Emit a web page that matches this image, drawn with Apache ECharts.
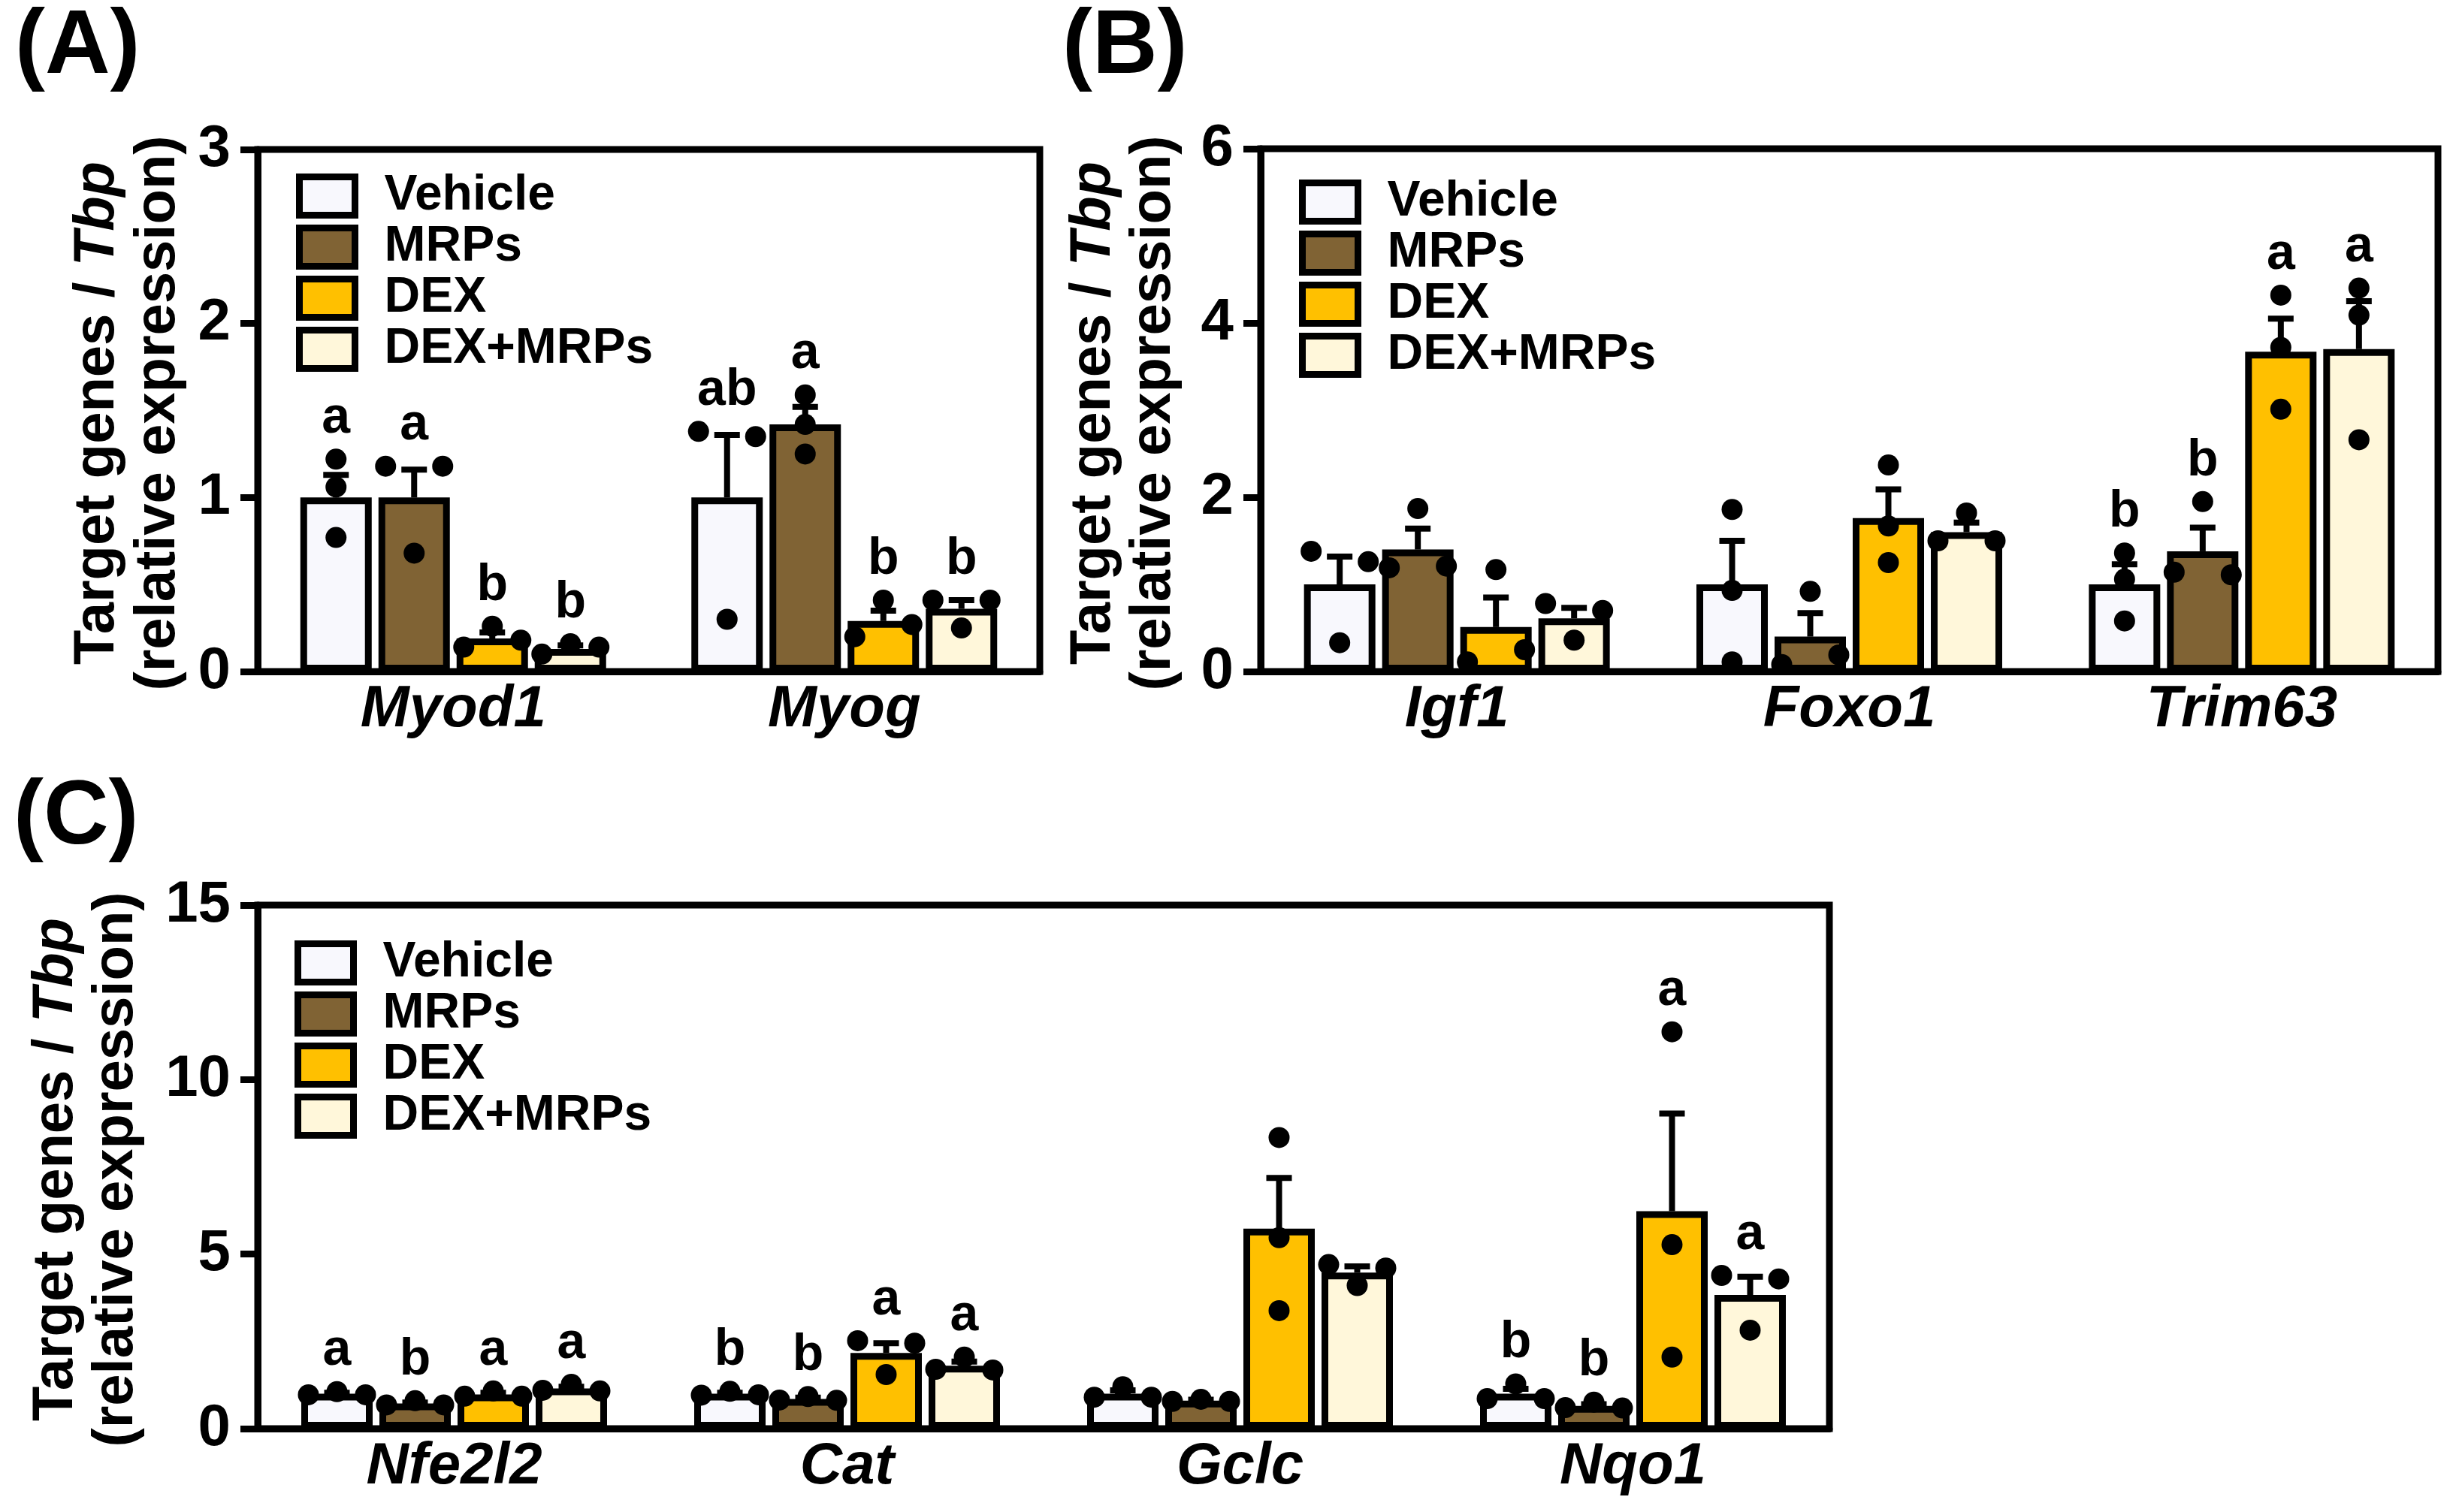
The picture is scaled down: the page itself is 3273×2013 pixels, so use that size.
<!DOCTYPE html>
<html>
<head>
<meta charset="utf-8">
<script src="https://cdn.jsdelivr.net/npm/echarts@6.0.0/dist/echarts.min.js"></script>
<style>
html,body{margin:0;padding:0;background:#fff;}
#chart{width:3273px;height:2013px;}
</style>
</head>
<body>
<div id="chart"></div>
<script>
// ---------------- DATA ----------------
const GROUPS = ['Vehicle', 'MRPs', 'DEX', 'DEX+MRPs'];

// Panel A
const GENES_A = ['Myod1', 'Myog'];
const A_MEAN = [[1.00, 1.00], [1.00, 1.42], [0.19, 0.29], [0.13, 0.36]];
const A_SEM  = [[0.13, 0.36], [0.16, 0.10], [0.035, 0.06], [0.02, 0.05]];
const A_PTS  = [
  [[1.22, 1.06, 0.77], [1.38, 1.35, 0.30]],
  [[1.18, 1.18, 0.68], [1.59, 1.42, 1.25]],
  [[0.14, 0.26, 0.18], [0.41, 0.20, 0.27]],
  [[0.10, 0.16, 0.14], [0.41, 0.41, 0.25]]
];
const A_LET  = [['a', 'ab'], ['a', 'a'], ['b', 'b'], ['b', 'b']];
const A_TICKS = [0, 3, 1];

// Panel B
const GENES_B = ['Igf1', 'Foxo1', 'Trim63'];
const B_MEAN = [[1.00, 1.00, 1.00], [1.40, 0.40, 1.38], [0.51, 1.76, 3.67], [0.61, 1.60, 3.70]];
const B_SEM  = [[0.32, 0.50, 0.23], [0.24, 0.27, 0.27], [0.34, 0.33, 0.38], [0.12, 0.11, 0.55]];
const B_PTS  = [
  [[1.38, 1.26, 0.33], [1.86, 0.93, 0.11], [1.36, 1.06, 0.58]],
  [[1.19, 1.21, 1.87], [0.08, 0.92, 0.19], [1.14, 1.95, 1.11]],
  [[0.11, 1.17, 0.25], [2.37, 1.67, 1.25], [4.32, 3.72, 3.01]],
  [[0.78, 0.70, 0.36], [1.50, 1.82, 1.50], [4.40, 4.09, 2.66]]
];
const B_LET  = [['', '', 'b'], ['', '', 'b'], ['', '', 'a'], ['', '', 'a']];
const B_TICKS = [0, 6, 2];

// Panel C
const GENES_C = ['Nfe2l2', 'Cat', 'Gclc', 'Nqo1'];
const C_MEAN = [[1.00, 1.00, 1.00, 1.00], [0.72, 0.85, 0.80, 0.65], [0.98, 2.17, 5.73, 6.23], [1.15, 1.80, 4.47, 3.83]];
const C_SEM  = [[0.03, 0.03, 0.10, 0.14], [0.03, 0.04, 0.03, 0.05], [0.05, 0.28, 1.45, 2.80], [0.05, 0.12, 0.18, 0.52]];
const C_PTS  = [
  [[0.97, 1.06, 0.97], [0.96, 1.07, 0.97], [0.90, 1.20, 0.90], [0.86, 1.28, 0.86]],
  [[0.68, 0.80, 0.68], [0.82, 0.92, 0.81], [0.78, 0.84, 0.78], [0.60, 0.76, 0.59]],
  [[0.93, 1.08, 0.93], [2.52, 2.45, 1.55], [8.34, 5.47, 3.38], [11.37, 5.27, 2.05]],
  [[1.10, 1.27, 1.08], [1.70, 2.05, 1.68], [4.70, 4.10, 4.60], [4.39, 4.29, 2.82]]
];
const C_LET  = [['a', 'b', '', 'b'], ['b', 'b', '', 'b'], ['a', 'a', '', 'a'], ['a', 'a', '', 'a']];
const C_TICKS = [0, 15, 5];

// ---------------- STYLE ----------------
const FONT = '"Liberation Sans", Arial, Helvetica, sans-serif';
const COLORS = ['#F8F8FD', '#806334', '#FFC000', '#FFF7DA'];
const BORDER = 9;
const BAR_W = 95;
const STEP = BAR_W + BORDER;
const DOT_R = 14;
const SPREAD = 38;
const CLUSTER_PX = 30;
const ERR_W = 8;
const CAP_HALF = 17;

const chart = echarts.init(document.getElementById('chart'), null, {renderer: 'canvas'});

const panels = [
  {genes: GENES_A, mean: A_MEAN, sem: A_SEM, pts: A_PTS, let: A_LET, ticks: A_TICKS,
   grid: {left: 343, top: 199, width: 1041, height: 695}, legend: {left: 394, top: 228}},
  {genes: GENES_B, mean: B_MEAN, sem: B_SEM, pts: B_PTS, let: B_LET, ticks: B_TICKS,
   grid: {left: 1678, top: 198, width: 1567, height: 696}, legend: {left: 1729, top: 236}},
  {genes: GENES_C, mean: C_MEAN, sem: C_SEM, pts: C_PTS, let: C_LET, ticks: C_TICKS,
   grid: {left: 343, top: 1205, width: 2092, height: 697}, legend: {left: 392, top: 1249}}
];

const grids = [], xAxes = [], yAxes = [], series = [], legends = [];

panels.forEach((p, pi) => {
  grids.push(Object.assign({show: true, borderColor: '#000', borderWidth: BORDER, backgroundColor: 'transparent', containLabel: false}, p.grid));
  xAxes.push({
    type: 'category', gridIndex: pi, data: p.genes,
    axisLine: {show: true, lineStyle: {color: '#000', width: BORDER}},
    axisTick: {show: false},
    axisLabel: {interval: 0, margin: 12, color: '#000', fontSize: 78, fontWeight: 'bold', fontStyle: 'italic', fontFamily: FONT},
    splitLine: {show: false}
  });
  yAxes.push({
    type: 'value', gridIndex: pi, min: p.ticks[0], max: p.ticks[1], interval: p.ticks[2],
    axisLine: {show: true, lineStyle: {color: '#000', width: BORDER}},
    axisTick: {show: true, length: 23, lineStyle: {color: '#000', width: BORDER}},
    axisLabel: {margin: 36, color: '#000', fontSize: 78, fontWeight: 'bold', fontFamily: FONT},
    splitLine: {show: false}
  });
  GROUPS.forEach((g, gi) => {
    series.push({
      type: 'bar', name: g, xAxisIndex: pi, yAxisIndex: pi,
      data: p.mean[gi], barWidth: BAR_W, barGap: (BORDER / BAR_W * 100).toFixed(2) + '%',
      itemStyle: {color: COLORS[gi], borderColor: '#000', borderWidth: BORDER},
      z: 2, silent: true, animation: false
    });
  });
  GROUPS.forEach((g, gi) => {
    const letters = p.let[gi];
    series.push({
      type: 'custom', xAxisIndex: pi, yAxisIndex: pi, z: 5, silent: true, animation: false,
      data: p.mean[gi].map((m, i) => [i, m, p.sem[gi][i], p.pts[gi][i][0], p.pts[gi][i][1], p.pts[gi][i][2]]),
      renderItem: function (params, api) {
        const i = api.value(0);
        const base = api.coord([i, 0]);
        const cx = base[0] + (gi - 1.5) * STEP;
        const m = api.value(1), s = api.value(2);
        const yMean = api.coord([i, m])[1];
        const yErr = api.coord([i, m + s])[1];
        const vals = [api.value(3), api.value(4), api.value(5)];
        const ys = vals.map(v => api.coord([i, v])[1]);
        const order = [0, 1, 2].sort((a, b) => ys[a] - ys[b]);
        const cl = [];
        let cid = 0; cl[order[0]] = 0;
        for (let k = 1; k < 3; k++) {
          if (ys[order[k]] - ys[order[k - 1]] >= CLUSTER_PX) cid++;
          cl[order[k]] = cid;
        }
        const offs = [0, 0, 0];
        for (let c = 0; c <= cid; c++) {
          const mem = [0, 1, 2].filter(j => cl[j] === c);
          const pat = mem.length === 1 ? [0] : (mem.length === 2 ? [-SPREAD, SPREAD] : [-SPREAD, 0, SPREAD]);
          mem.forEach((j, k) => { offs[j] = pat[k]; });
        }
        const children = [
          {type: 'line', shape: {x1: cx, y1: yMean, x2: cx, y2: yErr}, style: {stroke: '#000', lineWidth: ERR_W}},
          {type: 'line', shape: {x1: cx - CAP_HALF, y1: yErr, x2: cx + CAP_HALF, y2: yErr}, style: {stroke: '#000', lineWidth: ERR_W}}
        ];
        ys.forEach((y, j) => {
          children.push({type: 'circle', shape: {cx: cx + offs[j], cy: y, r: DOT_R}, style: {fill: '#000'}});
        });
        const letter = letters[i];
        if (letter) {
          const top = Math.min(Math.min.apply(null, ys) - DOT_R, yErr - ERR_W / 2);
          children.push({type: 'text', x: cx, y: top - 6,
            style: {text: letter, fill: '#000', fontSize: 68, fontWeight: 'bold', fontFamily: FONT, align: 'center', verticalAlign: 'bottom'}});
        }
        return {type: 'group', children: children};
      }
    });
  });
  legends.push({
    orient: 'vertical', left: p.legend.left, top: p.legend.top, padding: 0,
    icon: 'rect', itemWidth: 74, itemHeight: 51, itemGap: 2, selectedMode: false,
    data: GROUPS,
    itemStyle: {borderColor: '#000', borderWidth: BORDER},
    textStyle: {fontSize: 66, fontWeight: 'bold', color: '#000', fontFamily: FONT, lineHeight: 51, padding: [0, 0, 0, 34]}
  });
});

function titleTexts(x1, x2, yc) {
  return [
    {type: 'text', x: x1, y: yc, rotation: Math.PI / 2,
     style: {text: '{n|Target genes / }{i|Tbp}', align: 'center', verticalAlign: 'middle',
       fontSize: 76, fontWeight: 'bold', fontFamily: FONT, fill: '#000',
       rich: {n: {fontSize: 76, fontWeight: 'bold', fontFamily: FONT, fill: '#000'},
              i: {fontSize: 76, fontWeight: 'bold', fontStyle: 'italic', fontFamily: FONT, fill: '#000'}}}},
    {type: 'text', x: x2, y: yc, rotation: Math.PI / 2,
     style: {text: '(relative expression)', align: 'center', verticalAlign: 'middle',
       fontSize: 76, fontWeight: 'bold', fontFamily: FONT, fill: '#000'}}
  ];
}

const graphics = [].concat(
  [{type: 'text', left: 20, top: 4, style: {text: '(A)', fontSize: 120, fontWeight: 'bold', fontFamily: FONT, fill: '#000'}},
   {type: 'text', left: 1414, top: 4, style: {text: '(B)', fontSize: 120, fontWeight: 'bold', fontFamily: FONT, fill: '#000'}},
   {type: 'text', left: 18, top: 1030, style: {text: '(C)', fontSize: 120, fontWeight: 'bold', fontFamily: FONT, fill: '#000'}}],
  titleTexts(130, 211, 550),
  titleTexts(1456, 1536, 550),
  titleTexts(75, 155, 1557)
);

chart.setOption({
  animation: false,
  backgroundColor: '#fff',
  grid: grids, xAxis: xAxes, yAxis: yAxes, series: series, legend: legends,
  graphic: graphics
});
</script>
</body>
</html>
